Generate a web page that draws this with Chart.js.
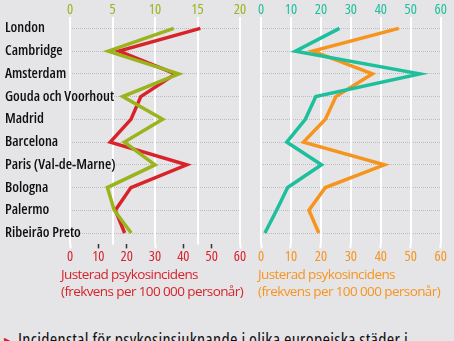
<!DOCTYPE html>
<html>
<head>
<meta charset="utf-8">
<script src="https://cdn.jsdelivr.net/npm/chart.js@4/dist/chart.umd.min.js"></script>
<style>
  body {
    margin: 0;
    width: 454px;
    height: 341px;
    overflow: hidden;
    position: relative;
    background: #e5e5e8;
    font-family: 'Open Sans', sans-serif;
  }
  canvas { position: absolute; top: 0; }
  #left { left: 0; }
  #right { left: 250px; }
  .axis-title {
    position: absolute;
    top: 266px;
    font-size: 13.5px;
    line-height: 17.4px;
    letter-spacing: -0.6px;
    white-space: nowrap;
  }
  .caption {
    position: absolute;
    left: 4px;
    top: 327px;
    font-size: 18px;
    font-stretch: condensed;
    letter-spacing: 0.3px;
    color: #111;
    white-space: nowrap;
  }
  .caption b { color: #d8232a; font-size: 13px; font-weight: normal; }
</style>
</head>
<body>
<canvas id="left" width="250" height="300"></canvas>
<canvas id="right" width="204" height="300"></canvas>
<div class="axis-title" style="left:61px;color:#d8232a">Justerad psykosincidens<br>(frekvens per 100 000 personår)</div>
<div class="axis-title" style="left:258px;color:#f7941d">Justerad psykosincidens<br>(frekvens per 100 000 personår)</div>
<div class="caption"><b>&#9654;</b> Incidenstal för psykosinsjuknande i olika europeiska städer i</div>
<script>
const cities = ['London', 'Cambridge', 'Amsterdam', 'Gouda och Voorhout', 'Madrid',
  'Barcelona', 'Paris (Val-de-Marne)', 'Bologna', 'Palermo', 'Ribeirão Preto'];

// adjusted psychosis incidence per 100 000 person-years (red and orange lines)
const adjustedIncidence = [46, 17.3, 37.2, 25, 21.5, 14.2, 41.2, 21.5, 16, 19.3];
// comparison measure on the 0-20 scale (green, left panel)
const greenMeasure = [12.2, 4.5, 12.8, 6.2, 10.9, 6.4, 10.0, 4.4, 5.2, 7.2];
// comparison measure on the 0-60 scale (teal, right panel)
const tealMeasure = [26.2, 11.5, 53, 18.3, 14.8, 8.6, 20.2, 8.9, 5.2, 1.3];

const ticksTo20 = [0, 5, 10, 15, 20];
const ticksTo60 = [0, 10, 20, 30, 40, 50, 60];

const RED = '#d8232a', GREEN = '#9bb31c', TEAL = '#1dbf9d', ORANGE = '#f7941d';

// Chart.js glues weight into the canvas font string, so the stretch rides along there
Chart.defaults.font.family = "'Open Sans', sans-serif";
Chart.defaults.font.weight = '500 condensed';
Chart.defaults.font.size = 14.5;
Chart.defaults.animation = false;

const TOP_H = 17;       // room for the top tick labels
const BOTTOM_H = 55.6;  // chart area ends at y = 244.4

function series(label, data, color, axis) {
  return {
    label, data, xAxisID: axis,
    borderColor: color, borderWidth: 3.5,
    borderJoinStyle: 'miter', borderCapStyle: 'butt',
    pointRadius: 0, tension: 0, fill: false
  };
}

function fixedTicks(values) {
  return s => { s.ticks = values.map(v => ({ value: v })); };
}

function topAxis(values, color) {
  return {
    type: 'linear', position: 'top',
    min: values[0], max: values[values.length - 1],
    afterBuildTicks: fixedTicks(values),
    afterFit: s => { s.height = TOP_H; },
    border: { display: false },
    grid: { color: '#ffffff', lineWidth: 2, drawTicks: false },
    ticks: { color, padding: -1.5 }
  };
}

function bottomAxis(values, color, whiteAt) {
  const white = c => whiteAt.includes(c.tick && c.tick.value);
  return {
    type: 'linear', position: 'bottom',
    min: values[0], max: values[values.length - 1],
    afterBuildTicks: fixedTicks(values),
    afterFit: s => { s.height = BOTTOM_H; },
    border: { display: false },
    grid: {
      drawOnChartArea: false, tickLength: 4,
      tickColor: c => white(c) ? '#ffffff' : '#333333',
      tickWidth: c => white(c) ? 2 : 1.5
    },
    ticks: { color, padding: 0 }
  };
}

// mirrored labels are not clipped to the axis box, so long names can run into the plot
function cityAxis(width, showLabels) {
  return {
    type: 'category', labels: cities, position: 'left', offset: true,
    afterFit: s => { s.width = width; },
    border: { display: false, dash: [1, 1] },
    grid: { offset: false, color: '#bcbcc1', lineWidth: 1, drawTicks: false, z: -1 },
    ticks: {
      display: showLabels, color: '#111', mirror: true, padding: -width,
      font: { weight: '600 condensed', size: 14.5 }
    }
  };
}

function panel(id, datasets, scales, padding) {
  return new Chart(document.getElementById(id), {
    type: 'line',
    data: { labels: cities, datasets },
    options: {
      indexAxis: 'y',
      responsive: false,
      devicePixelRatio: 1,
      layout: { padding },
      plugins: { legend: { display: false }, tooltip: { enabled: false } },
      scales
    }
  });
}

panel('left',
  [series('Mått', greenMeasure, GREEN, 'xTop'),
   series('Justerad psykosincidens', adjustedIncidence, RED, 'xBottom')],
  { y: cityAxis(65, true), xTop: topAxis(ticksTo20, GREEN), xBottom: bottomAxis(ticksTo60, RED, [0, 30, 60]) },
  { left: 5, right: 10, top: 0, bottom: 0 });

panel('right',
  [series('Mått', tealMeasure, TEAL, 'xTop'),
   series('Justerad psykosincidens', adjustedIncidence, ORANGE, 'xBottom')],
  { y: cityAxis(0, false), xTop: topAxis(ticksTo60, TEAL), xBottom: bottomAxis(ticksTo60, ORANGE, ticksTo60) },
  { left: 11, right: 13.3, top: 0, bottom: 0 });
</script>
</body>
</html>
